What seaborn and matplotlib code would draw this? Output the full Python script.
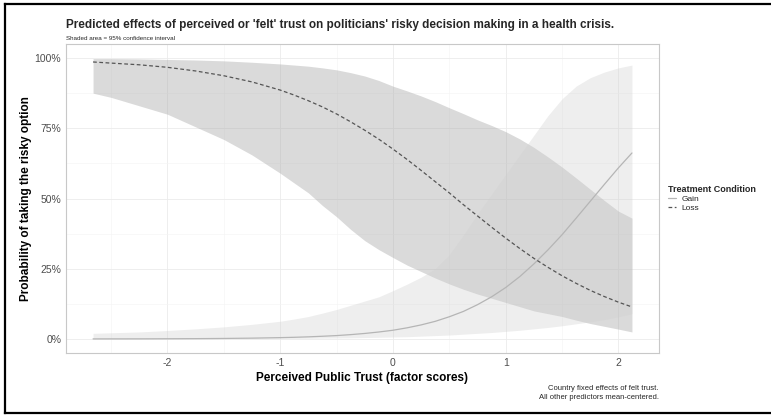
import matplotlib
matplotlib.use("Agg")
import matplotlib.pyplot as plt
from matplotlib.lines import Line2D
from matplotlib.ticker import MultipleLocator, FuncFormatter
import pandas as pd
import seaborn as sns

# Perceived public trust (factor scores) at which predictions were evaluated
trust = [-2.66, -2.5, -2.25, -2.0, -1.75, -1.5, -1.25, -1.0, -0.875, -0.75,
         -0.625, -0.5, -0.375, -0.25, -0.125, 0.0, 0.125, 0.25, 0.375, 0.5,
         0.625, 0.75, 0.875, 1.0, 1.125, 1.25, 1.375, 1.5, 1.625, 1.75,
         1.875, 2.0, 2.12]

# Loss condition: predicted probability and 95% CI
loss_fit = [0.986, 0.982, 0.976, 0.967, 0.954, 0.937, 0.915, 0.886, 0.868, 0.848,
            0.826, 0.801, 0.773, 0.743, 0.711, 0.676, 0.639, 0.600, 0.560, 0.520,
            0.478, 0.438, 0.398, 0.359, 0.322, 0.287, 0.255, 0.225, 0.198, 0.173,
            0.151, 0.131, 0.114]
loss_low = [0.875, 0.860, 0.830, 0.800, 0.755, 0.710, 0.655, 0.590, 0.555, 0.520,
            0.475, 0.435, 0.390, 0.350, 0.318, 0.290, 0.263, 0.240, 0.217, 0.196,
            0.177, 0.160, 0.145, 0.130, 0.115, 0.100, 0.090, 0.080, 0.067, 0.055,
            0.045, 0.035, 0.025]
loss_high = [0.998, 0.998, 0.997, 0.995, 0.993, 0.990, 0.985, 0.979, 0.975, 0.971,
             0.965, 0.958, 0.948, 0.936, 0.920, 0.900, 0.883, 0.865, 0.845, 0.823,
             0.802, 0.780, 0.760, 0.738, 0.712, 0.682, 0.648, 0.612, 0.573, 0.533,
             0.493, 0.455, 0.430]

# Gain condition: predicted probability and 95% CI
gain_fit = [0.0002, 0.0003, 0.0004, 0.0007, 0.0011, 0.0018, 0.0029, 0.0047, 0.0059, 0.0075,
            0.0096, 0.012, 0.0154, 0.0196, 0.0248, 0.031, 0.0396, 0.050, 0.0627, 0.079,
            0.098, 0.122, 0.150, 0.183, 0.222, 0.267, 0.317, 0.371, 0.430, 0.490,
            0.550, 0.609, 0.662]
gain_low = [0.000, 0.000, 0.000, 0.0005, 0.0007, 0.001, 0.0013, 0.0018, 0.002, 0.0025,
            0.003, 0.0035, 0.004, 0.005, 0.006, 0.007, 0.008, 0.010, 0.012, 0.014,
            0.017, 0.020, 0.023, 0.027, 0.031, 0.036, 0.041, 0.047, 0.054, 0.061,
            0.069, 0.079, 0.090]
gain_high = [0.020, 0.022, 0.025, 0.030, 0.036, 0.043, 0.052, 0.063, 0.071, 0.080,
             0.092, 0.105, 0.120, 0.135, 0.150, 0.172, 0.195, 0.220, 0.250, 0.300,
             0.370, 0.445, 0.515, 0.585, 0.655, 0.725, 0.795, 0.855, 0.900, 0.930,
             0.950, 0.965, 0.975]

conditions = ["Gain", "Loss"]

df = pd.DataFrame({
    "trust": trust * 2,
    "prob": gain_fit + loss_fit,
    "lo": gain_low + loss_low,
    "hi": gain_high + loss_high,
    "condition": ["Gain"] * len(trust) + ["Loss"] * len(trust),
})

sns.set_theme(style="white")
plt.rcParams["font.family"] = ["Liberation Sans", "DejaVu Sans"]

W, H = 771, 416
fig = plt.figure(figsize=(W / 100, H / 100), dpi=100)
ax = fig.add_axes([66 / W, (H - 353) / H, (659 - 66) / W, (353 - 44) / H])

# Confidence ribbons
ribbon = {"Loss": ("#adadad", 0.45), "Gain": ("#cfcfcf", 0.35)}
for cond in ["Loss", "Gain"]:
    sub = df[df["condition"] == cond]
    col, a = ribbon[cond]
    ax.fill_between(sub["trust"], sub["lo"], sub["hi"], color=col, alpha=a,
                    linewidth=0, zorder=2)

# Predicted probability curves
sns.lineplot(data=df, x="trust", y="prob", hue="condition", style="condition",
             hue_order=conditions, style_order=conditions,
             palette={"Gain": "#b5b5b5", "Loss": "#555555"},
             dashes={"Gain": "", "Loss": (3, 2)}, linewidth=0.9,
             ax=ax, zorder=3, legend=True)

ax.set_xlim(-2.90, 2.36)
ax.set_ylim(-0.05, 1.05)
ax.xaxis.set_major_locator(MultipleLocator(1))
ax.xaxis.set_minor_locator(MultipleLocator(0.5))
ax.yaxis.set_major_locator(MultipleLocator(0.25))
ax.yaxis.set_minor_locator(MultipleLocator(0.125))
ax.yaxis.set_major_formatter(FuncFormatter(lambda v, p: f"{v * 100:.0f}%"))
ax.xaxis.set_major_formatter(FuncFormatter(lambda v, p: f"{v:.0f}"))

ax.grid(True, which="major", color="#ebebeb", linewidth=0.6, zorder=0)
ax.grid(True, which="minor", color="#f4f4f4", linewidth=0.4, zorder=0)
ax.set_axisbelow(True)
for s in ax.spines.values():
    s.set_color("#c8c8c8")
    s.set_linewidth(0.8)
ax.tick_params(axis="both", which="major", length=2, width=0.6, color="#c8c8c8",
               labelsize=7.5, labelcolor="#4d4d4d", pad=1.5)
ax.tick_params(axis="both", which="minor", length=0)

ax.set_xlabel("Perceived Public Trust (factor scores)", fontsize=8.5,
              fontweight="bold", color="black", labelpad=3)
ax.set_ylabel("Probability of taking the risky option", fontsize=8.5,
              fontweight="bold", color="black", labelpad=2)

# Legend at right
handles, labels = ax.get_legend_handles_labels()
leg = ax.legend(handles, labels, title="Treatment Condition", frameon=False,
                loc="center left", bbox_to_anchor=(1.005, 0.5),
                fontsize=6, title_fontsize=6.5, handlelength=1.0,
                handletextpad=0.6, labelspacing=0.15, borderaxespad=0.3)
leg.get_title().set_fontweight("bold")
leg._legend_box.align = "left"

fig.text(66 / W, 1 - 25 / H,
         "Predicted effects of perceived or 'felt' trust on politicians' risky decision making in a health crisis.",
         fontsize=8.5, fontweight="bold", va="center", ha="left")
fig.text(66 / W, 1 - 38 / H, "Shaded area = 95% confidence interval",
         fontsize=4.5, va="center", ha="left")
fig.text(659 / W, 1 - 393 / H,
         "Country fixed effects of felt trust.\nAll other predictors mean-centered.",
         fontsize=5.5, va="center", ha="right", linespacing=1.3)

# Outer frame on the left, top and bottom edges
xl, yt, yb = 4.5 / W, 1 - 3.5 / H, 1 - 413 / H
for xs, ys in [([xl, xl], [yb, yt]), ([xl, 1.0], [yt, yt]), ([xl, 1.0], [yb, yb])]:
    fig.add_artist(Line2D(xs, ys, transform=fig.transFigure, color="black",
                          linewidth=1.6, solid_capstyle="projecting"))

fig.savefig("out.png", dpi=100)
